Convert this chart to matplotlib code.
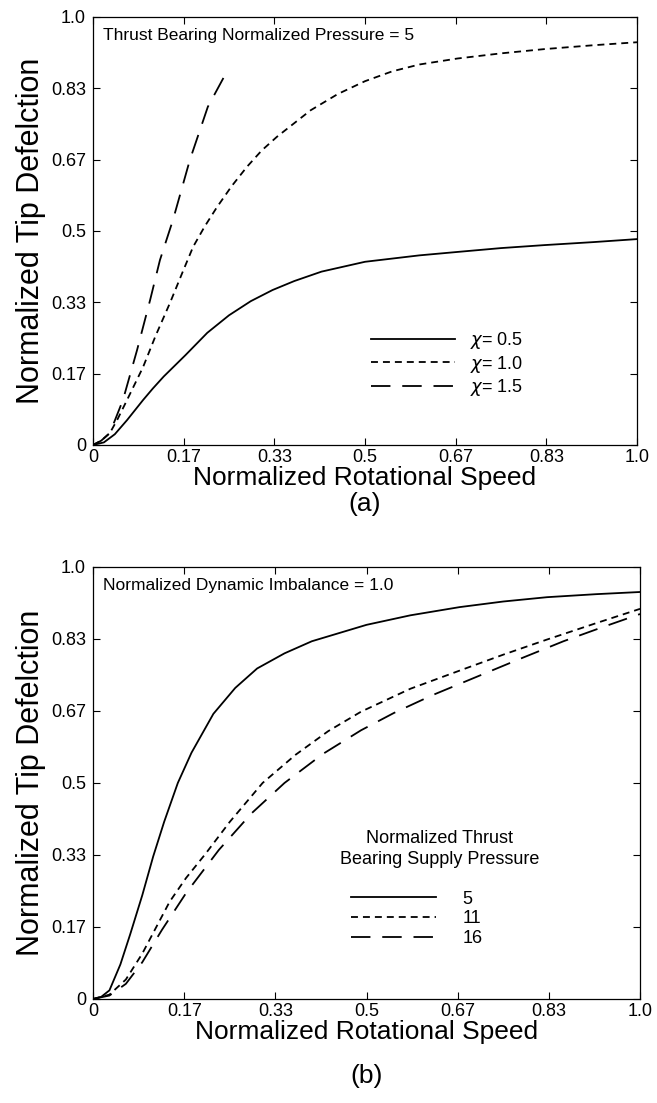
import matplotlib
matplotlib.use("Agg")
import matplotlib.pyplot as plt
from matplotlib.lines import Line2D

plt.rcParams["font.family"] = ["Liberation Sans", "DejaVu Sans"]
plt.rcParams["mathtext.fontset"] = "dejavusans"
plt.rcParams["lines.scale_dashes"] = False

# tick positions / labels shared by both panels
tick_values = [0, 1 / 6, 2 / 6, 3 / 6, 4 / 6, 5 / 6, 1.0]
tick_labels = ["0", "0.17", "0.33", "0.5", "0.67", "0.83", "1.0"]

# panel (a): thrust bearing normalized pressure = 5
a_x_chi05 = [0, 0.02, 0.04, 0.0625, 0.092, 0.11, 0.13, 0.15, 0.17, 0.19, 0.21,
             0.25, 0.29, 0.33, 0.37, 0.42, 0.5, 0.6, 0.67, 0.75, 0.83, 0.92,
             1.0]
a_y_chi05 = [0, 0.006, 0.025, 0.058, 0.105, 0.132, 0.16, 0.185, 0.21, 0.236,
             0.262, 0.303, 0.336, 0.362, 0.383, 0.405, 0.428, 0.443, 0.451,
             0.460, 0.467, 0.474, 0.481]
a_x_chi10 = [0, 0.015, 0.031, 0.045, 0.0625, 0.092, 0.115, 0.1415, 0.165,
             0.184, 0.205, 0.228, 0.255, 0.283, 0.31, 0.338, 0.37, 0.40, 0.45,
             0.5, 0.55, 0.6, 0.67, 0.75, 0.83, 0.92, 1.0]
a_y_chi10 = [0, 0.01, 0.028, 0.06, 0.105, 0.182, 0.255, 0.332, 0.405, 0.463,
             0.51, 0.556, 0.605, 0.650, 0.688, 0.72, 0.752, 0.782, 0.82,
             0.85, 0.873, 0.889, 0.903, 0.915, 0.925, 0.934, 0.941]
a_x_chi15 = [0, 0.015, 0.031, 0.055, 0.081, 0.105, 0.123, 0.147, 0.178, 0.211,
             0.245]
a_y_chi15 = [0, 0.01, 0.028, 0.105, 0.222, 0.339, 0.432, 0.526, 0.666, 0.79,
             0.87]
a_labels = [r"$\chi$= 0.5", r"$\chi$= 1.0", r"$\chi$= 1.5"]

# panel (b): normalized dynamic imbalance = 1.0
b_x_p5 = [0, 0.015, 0.03, 0.05, 0.068, 0.09, 0.11, 0.13, 0.155, 0.18, 0.22,
          0.26, 0.3, 0.35, 0.4, 0.5, 0.58, 0.67, 0.75, 0.83, 0.92, 1.0]
b_y_p5 = [0, 0.005, 0.02, 0.08, 0.15, 0.24, 0.33, 0.41, 0.5, 0.57, 0.66,
          0.72, 0.765, 0.80, 0.828, 0.866, 0.888, 0.907, 0.92, 0.93, 0.937,
          0.942]
b_x_p11 = [0, 0.03, 0.06, 0.09, 0.115, 0.14, 0.17, 0.205, 0.25, 0.31, 0.37,
           0.43, 0.49, 0.58, 0.67, 0.75, 0.83, 0.92, 1.0]
b_y_p11 = [0, 0.01, 0.045, 0.105, 0.165, 0.225, 0.28, 0.335, 0.41, 0.5, 0.565,
           0.62, 0.665, 0.718, 0.76, 0.797, 0.832, 0.87, 0.903]
b_x_p16 = [0, 0.03, 0.06, 0.09, 0.126, 0.17, 0.23, 0.29, 0.35, 0.42, 0.49,
           0.55, 0.62, 0.7, 0.78, 0.86, 0.93, 1.0]
b_y_p16 = [0, 0.008, 0.035, 0.085, 0.16, 0.245, 0.345, 0.43, 0.5, 0.567,
           0.622, 0.662, 0.703, 0.745, 0.787, 0.828, 0.86, 0.891]
b_labels = ["5", "11", "16"]
b_legend_title = "Normalized Thrust\nBearing Supply Pressure"

styles = [
    dict(linestyle="-"),
    dict(linestyle=(0, (5, 3.6))),
    dict(linestyle=(0, (14, 8.5))),
]
LW = 1.3
FS_XLABEL = 19
FS_YLABEL = 22
FS_TICK = 13
FS_TEXT = 13


def style_axes(ax):
    ax.set_xlim(0, 1)
    ax.set_ylim(0, 1)
    ax.set_xticks(tick_values)
    ax.set_xticklabels(tick_labels)
    ax.set_yticks(tick_values)
    ax.set_yticklabels(tick_labels)
    ax.tick_params(direction="in", top=True, right=True, length=5,
                   labelsize=FS_TICK)
    ax.tick_params(axis="y", pad=5)
    ax.tick_params(axis="x", pad=3)
    for spine in ax.spines.values():
        spine.set_linewidth(0.9)
    ax.set_xlabel("Normalized Rotational Speed", fontsize=FS_XLABEL,
                  labelpad=0)
    ax.set_ylabel("Normalized Tip Defelction", fontsize=FS_YLABEL, labelpad=4)


def draw_curves(ax, series):
    for (xs, ys), st in zip(series, styles):
        ax.plot(xs, ys, color="black", lw=LW, **st)
    style_axes(ax)


def add_legend(ax, labels, anchor, textpad):
    handles = [Line2D([], [], color="black", lw=LW, **st) for st in styles]
    ax.legend(handles, labels, loc="upper left", bbox_to_anchor=anchor,
              frameon=False, fontsize=FS_TEXT, handlelength=4.7,
              handletextpad=textpad, labelspacing=0.15, borderpad=0.2)


fig = plt.figure(figsize=(6.57, 11.03), dpi=100)
ax_a = fig.add_axes([0.1416, 0.5966, 0.828, 0.388])
ax_b = fig.add_axes([0.1416, 0.0943, 0.8326, 0.3917])

draw_curves(ax_a, [(a_x_chi05, a_y_chi05), (a_x_chi10, a_y_chi10),
                   (a_x_chi15, a_y_chi15)])
ax_a.text(0.018, 0.975, "Thrust Bearing Normalized Pressure = 5",
          transform=ax_a.transAxes, fontsize=12.5, va="top", ha="left")
add_legend(ax_a, a_labels, (0.487, 0.298), 0.8)
ax_a.text(0.5, -0.11, "(a)", transform=ax_a.transAxes, fontsize=FS_XLABEL,
          ha="center", va="top")

draw_curves(ax_b, [(b_x_p5, b_y_p5), (b_x_p11, b_y_p11), (b_x_p16, b_y_p16)])
ax_b.text(0.018, 0.975, "Normalized Dynamic Imbalance = 1.0",
          transform=ax_b.transAxes, fontsize=12.5, va="top", ha="left")
ax_b.text(0.634, 0.392, b_legend_title, transform=ax_b.transAxes,
          fontsize=FS_TEXT, ha="center", va="top", multialignment="center",
          linespacing=1.3)
add_legend(ax_b, b_labels, (0.449, 0.28), 1.45)
ax_b.text(0.5, -0.15, "(b)", transform=ax_b.transAxes, fontsize=FS_XLABEL,
          ha="center", va="top")

fig.savefig("out.png", dpi=100)
